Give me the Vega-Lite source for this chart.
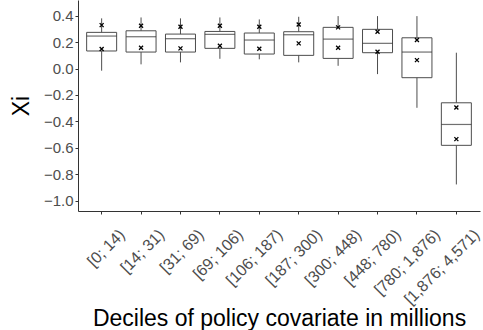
{
  "$schema": "https://vega.github.io/schema/vega-lite/v6.json",
  "width": 402,
  "height": 211,
  "autosize": {"type": "none"},
  "padding": {"left": 78, "top": 0, "right": 3, "bottom": 119},
  "background": "white",
  "config": {
    "view": {"stroke": null},
    "font": "Liberation Sans",
    "axis": {
      "domainColor": "#333333",
      "domainWidth": 1,
      "tickColor": "#333333",
      "tickSize": 3,
      "grid": false,
      "labelColor": "#4d4d4d",
      "labelFont": "Liberation Sans",
      "labelFontSize": 15,
      "titleFont": "Liberation Sans",
      "titleFontWeight": "normal",
      "titleColor": "black",
      "titleFontSize": 23
    },
    "axisY": {"labelOverlap": false, "labelPadding": 2, "titlePadding": 10}
  },
  "data": {
    "values": [
      {"d": "[0; 14)", "lo": -0.016, "q1": 0.133, "med": 0.246, "q3": 0.274, "hi": 0.38, "xup": 0.329, "xlo": 0.148},
      {"d": "[14; 31)", "lo": 0.032, "q1": 0.125, "med": 0.241, "q3": 0.286, "hi": 0.387, "xup": 0.324, "xlo": 0.158},
      {"d": "[31; 69)", "lo": 0.047, "q1": 0.125, "med": 0.226, "q3": 0.261, "hi": 0.38, "xup": 0.317, "xlo": 0.153},
      {"d": "[69; 106)", "lo": 0.074, "q1": 0.153, "med": 0.259, "q3": 0.281, "hi": 0.387, "xup": 0.324, "xlo": 0.173},
      {"d": "[106; 187)", "lo": 0.07, "q1": 0.11, "med": 0.216, "q3": 0.269, "hi": 0.372, "xup": 0.317, "xlo": 0.15},
      {"d": "[187; 300)", "lo": 0.047, "q1": 0.1, "med": 0.256, "q3": 0.279, "hi": 0.392, "xup": 0.334, "xlo": 0.191},
      {"d": "[300; 448)", "lo": 0.021, "q1": 0.077, "med": 0.223, "q3": 0.312, "hi": 0.397, "xup": 0.312, "xlo": 0.158},
      {"d": "[448; 780)", "lo": -0.042, "q1": 0.12, "med": 0.191, "q3": 0.297, "hi": 0.397, "xup": 0.279, "xlo": 0.127},
      {"d": "[780; 1,876)", "lo": -0.297, "q1": -0.069, "med": 0.125, "q3": 0.233, "hi": 0.397, "xup": 0.216, "xlo": 0.064},
      {"d": "[1,876; 4,571)", "lo": -0.877, "q1": -0.581, "med": -0.423, "q3": -0.259, "hi": 0.12, "xup": -0.294, "xlo": -0.534}
    ]
  },
  "encoding": {
    "x": {
      "field": "d",
      "type": "nominal",
      "sort": null,
      "scale": {"paddingInner": 0, "paddingOuter": 0.1},
      "axis": {
        "title": "Deciles of policy covariate in millions",
        "labelAngle": -45,
        "labelAlign": "right",
        "labelBaseline": "top",
        "labelPadding": 12,
        "labelOffset": 15,
        "labelFontSize": 16,
        "labelOverlap": false,
        "labelBound": false,
        "titlePadding": 0
      }
    }
  },
  "layer": [
    {
      "mark": {"type": "rule", "color": "#4d4d4d", "strokeWidth": 1},
      "encoding": {
        "y": {
          "field": "lo",
          "type": "quantitative",
          "scale": {"domain": [-1.078, 0.519], "nice": false, "zero": false},
          "axis": {
            "title": "Xi",
            "values": [-1.0, -0.8, -0.6, -0.4, -0.2, 0.0, 0.2, 0.4],
            "labelExpr": "replace(format(datum.value, '.1f'), '-', '\u2212')",
            "labelOverlap": false
          }
        },
        "y2": {"field": "hi"}
      }
    },
    {
      "mark": {"type": "bar", "fill": "white", "stroke": "#4d4d4d", "strokeWidth": 1, "size": 30},
      "encoding": {
        "y": {
          "field": "q1",
          "type": "quantitative",
          "axis": {
            "title": "Xi",
            "values": [-1.0, -0.8, -0.6, -0.4, -0.2, 0.0, 0.2, 0.4],
            "labelExpr": "replace(format(datum.value, '.1f'), '-', '\u2212')",
            "labelOverlap": false
          }
        },
        "y2": {"field": "q3"}
      }
    },
    {
      "mark": {"type": "tick", "color": "#333333", "size": 30, "thickness": 1.2},
      "encoding": {
        "y": {
          "field": "med",
          "type": "quantitative",
          "axis": {
            "title": "Xi",
            "values": [-1.0, -0.8, -0.6, -0.4, -0.2, 0.0, 0.2, 0.4],
            "labelExpr": "replace(format(datum.value, '.1f'), '-', '\u2212')",
            "labelOverlap": false
          }
        }
      }
    },
    {
      "mark": {"type": "point", "shape": "M-1,-1L1,1M-1,1L1,-1", "stroke": "black", "strokeWidth": 1.3, "size": 16, "opacity": 1},
      "encoding": {
        "y": {
          "field": "xup",
          "type": "quantitative",
          "axis": {
            "title": "Xi",
            "values": [-1.0, -0.8, -0.6, -0.4, -0.2, 0.0, 0.2, 0.4],
            "labelExpr": "replace(format(datum.value, '.1f'), '-', '\u2212')",
            "labelOverlap": false
          }
        }
      }
    },
    {
      "mark": {"type": "point", "shape": "M-1,-1L1,1M-1,1L1,-1", "stroke": "black", "strokeWidth": 1.3, "size": 16, "opacity": 1},
      "encoding": {
        "y": {
          "field": "xlo",
          "type": "quantitative",
          "axis": {
            "title": "Xi",
            "values": [-1.0, -0.8, -0.6, -0.4, -0.2, 0.0, 0.2, 0.4],
            "labelExpr": "replace(format(datum.value, '.1f'), '-', '\u2212')",
            "labelOverlap": false
          }
        }
      }
    }
  ]
}
